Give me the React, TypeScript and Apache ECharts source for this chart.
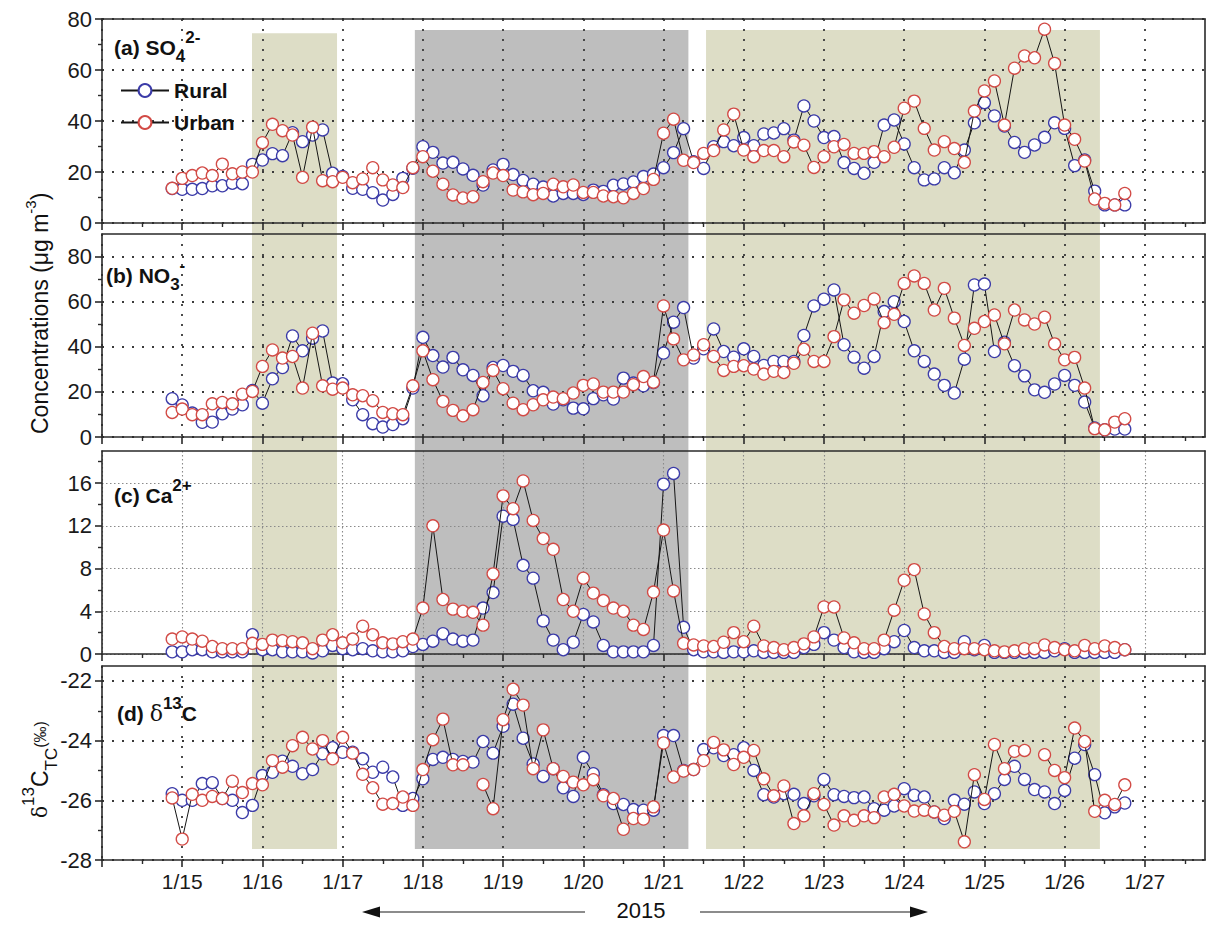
import React, { useEffect, useRef } from 'react';
import * as echarts from 'echarts';

// Sampling: every 3 h starting 1/14 21:00 (x axis = day of January 2015)
const START_DAY = 14.875;
const STEP_DAY = 0.125;

const so4Rural = [13.5, 13.2, 13.2, 13.5, 14.6, 14.6, 15.6, 15.4, 23, 24.7, 27.2, 26.4, 35.4, 31.9, 34.5, 36.5, 19.5, 18.2, 13.6, 13.2, 11.9, 9.0, 11.2, 17.5, 21.5, 29.9, 27.7, 23.5, 23.8, 21.2, 18.7, 14.9, 20.8, 23, 19, 16.7, 15.2, 14.1, 10.6, 11.6, 11.6, 11.2, 12.9, 12.4, 14.8, 15.3, 16.1, 18.2, 19.2, 21.7, 27.6, 37, 24, 21.4, 29.9, 31.9, 30.3, 33.5, 30.3, 34.9, 35.3, 37, 32.5, 45.9, 40, 33.5, 33.9, 23.7, 21.4, 19.5, 23.8, 38.4, 40.4, 31, 21.7, 16.9, 17.3, 21.7, 19.7, 28.6, 39.3, 47.2, 42, 38, 31.6, 27.7, 30.6, 33.6, 39.3, 37.1, 22.5, 24.7, 12.5, 7.1, 7.1, 7.1];
const so4Urban = [13.6, 17.5, 18.6, 19.6, 18.6, 23.1, 19.3, 20, 20, 31.5, 38.7, 36.2, 34.5, 17.9, 37.6, 16.6, 16.2, 17.9, 15.8, 17.3, 21.7, 16.9, 14.9, 13.9, 21.7, 26, 20.3, 15.2, 11, 9.8, 10.3, 16.2, 19.6, 18.6, 12.9, 12.2, 11.1, 11.6, 15.2, 14.2, 14.9, 12, 12, 10.6, 10.3, 9.9, 11.6, 13.5, 17.1, 35.2, 40.7, 24.6, 23.7, 27.3, 28.4, 36.5, 42.7, 28.6, 26, 28.4, 28.4, 26, 31.8, 30.5, 21.8, 26, 29.9, 30.8, 27.3, 27.3, 28, 26, 29.7, 45, 47.8, 37.1, 28.6, 31.9, 29.2, 23.8, 43.9, 51.8, 55.7, 38.4, 60.7, 65.5, 64.8, 76, 62.6, 38.4, 32.8, 24.3, 9.4, 7.7, 7.1, 11.6];

const no3Rural = [17, 14.2, 10.6, 6.5, 6.6, 10.3, 12.4, 14.3, 20.6, 15, 25.8, 30.8, 44.8, 38.2, 43.8, 47, 23.9, 23.6, 16.5, 9.9, 5.9, 4.4, 5.5, 8.1, 21.7, 44.2, 36.1, 31, 35.3, 29.8, 27.3, 18.3, 30.8, 31.7, 29.1, 27.3, 20.5, 19.8, 14.6, 16.5, 12.8, 12.5, 17, 18.7, 16.8, 26.1, 23.9, 22.7, 24.2, 37.2, 50.9, 57.4, 35, 39.1, 47.9, 37.9, 35.4, 39.1, 35.7, 31.7, 33.5, 33.5, 33.5, 45, 58.1, 61.1, 65.2, 40.9, 35.4, 30.5, 35.7, 55.6, 60, 51.2, 38.2, 33.5, 27.9, 22.9, 19.5, 34.5, 67.4, 67.8, 37.9, 42, 31.6, 27.1, 20.9, 19.8, 23.5, 27.3, 22.9, 15.5, 4, 3.2, 3.5, 3.5];
const no3Urban = [10.9, 12.4, 9.9, 9.9, 14.7, 15.3, 14.7, 19, 20.2, 31.3, 38.6, 35, 35.7, 21.7, 46, 22.7, 21.2, 21.7, 18.7, 18.3, 16.1, 10.9, 10.3, 9.9, 22.7, 38.2, 25.4, 15.8, 11.8, 9.4, 12.1, 24.2, 29.5, 21.4, 15, 12.1, 14.3, 16.5, 17.7, 17, 19.5, 22.9, 23.5, 19.9, 19.9, 19.9, 23.2, 26.8, 24.3, 58.1, 43.5, 34.2, 36.4, 40.9, 35.7, 29.5, 31.3, 31.6, 30.1, 27.9, 29.1, 28.6, 32.7, 38.9, 33.5, 33.5, 44.5, 60.8, 54.9, 58.3, 61.2, 50.7, 54.4, 68.1, 71.4, 68.1, 56.3, 65.9, 52.7, 40.6, 48.2, 51.2, 54.1, 41.3, 56.3, 51.9, 50.1, 53.1, 41.3, 34.2, 35.3, 21.7, 3.7, 3.2, 6.6, 8.1];

const caRural = [0.2, 0.2, 0.4, 0.4, 0.2, 0.2, 0.2, 0.2, 1.8, 0.4, 0.4, 0.2, 0.2, 0.2, 0.1, 0.3, 0.8, 0.5, 0.4, 0.5, 0.3, 0.2, 0.2, 0.3, 0.7, 0.9, 1.2, 1.9, 1.4, 1.2, 1.3, 4.3, 5.75, 12.9, 12.6, 8.3, 7.1, 3.1, 1.3, 0.4, 1.1, 3.7, 3.0, 0.8, 0.2, 0.2, 0.2, 0.2, 0.8, 15.9, 16.9, 2.5, 0.4, 0.2, 0.2, 0.15, 0.2, 0.2, 0.3, 0.15, 0.15, 0.15, 0.15, 0.6, 0.9, 2.0, 1.3, 0.6, 0.2, 0.15, 0.15, 0.5, 1.15, 2.2, 0.6, 0.3, 0.3, 0.15, 0.15, 1.15, 0.4, 0.8, 0.15, 0.15, 0.15, 0.15, 0.15, 0.15, 0.3, 0.5, 0.15, 0.15, 0.15, 0.15, 0.15, 0.4];
const caUrban = [1.4, 1.6, 1.4, 1.2, 0.7, 0.5, 0.5, 0.5, 1.0, 0.9, 1.3, 1.25, 1.15, 1.05, 0.5, 1.3, 1.8, 1.05, 1.4, 2.6, 1.8, 1.05, 0.95, 1.15, 1.4, 4.3, 12, 5.1, 4.2, 4.0, 3.9, 2.7, 7.5, 14.8, 13.6, 16.2, 12.5, 10.8, 9.8, 5.1, 4.0, 7.1, 5.7, 5.0, 4.3, 4.0, 2.7, 2.3, 5.8, 11.6, 5.9, 1.0, 0.85, 0.75, 0.7, 1.1, 2.0, 1.15, 2.6, 0.75, 0.6, 0.4, 0.6, 0.95, 1.6, 4.4, 4.4, 1.5, 1.05, 0.5, 0.5, 1.3, 4.1, 6.9, 7.9, 3.75, 2.0, 0.7, 0.5, 0.5, 0.5, 0.4, 0.3, 0.2, 0.3, 0.5, 0.5, 0.85, 0.6, 0.4, 0.3, 0.8, 0.5, 0.75, 0.6, 0.4];

const d13cRural = [-25.78, -26.0, -26.0, -25.44, -25.41, -25.94, -26.0, -26.41, -26.17, -25.17, -25.06, -24.69, -24.86, -25.11, -24.97, -24.44, -24.24, -24.39, -24.39, -24.61, -25.06, -24.89, -25.22, -26.17, -25.94, -25.28, -24.63, -24.56, -24.63, -24.7, -24.72, -24.03, -24.42, -23.52, -22.78, -23.92, -24.78, -25.2, -24.94, -25.58, -25.87, -24.56, -25.11, -25.81, -26.11, -26.14, -26.31, -26.33, -26.33, -23.83, -23.83, -25.0, -24.97, -24.3, -24.24, -24.5, -24.47, -24.24, -25.0, -25.81, -25.89, -25.78, -25.8, -26.11, -25.85, -25.3, -25.81, -25.87, -25.91, -25.89, -26.28, -26.33, -26.19, -25.61, -25.83, -25.89, -26.39, -26.61, -26.0, -26.13, -25.72, -26.11, -25.78, -25.3, -24.86, -25.3, -25.64, -25.72, -26.11, -25.67, -24.59, -24.13, -25.14, -26.42, -26.22, -26.09];
const d13cUrban = [-25.92, -27.3, -25.8, -26.0, -25.87, -25.94, -25.36, -25.74, -25.44, -25.48, -24.67, -24.89, -24.17, -23.89, -24.28, -24.0, -24.61, -23.89, -24.42, -25.13, -25.58, -26.13, -26.11, -25.89, -26.17, -24.97, -23.97, -23.28, -24.81, -24.81, null, -25.47, -26.28, -23.3, -22.28, -22.81, -24.94, -23.64, -24.94, -25.2, -25.39, -25.48, -25.31, -25.85, -25.94, -26.97, -26.61, -26.63, -26.22, -24.08, -25.22, -25.02, -24.97, -24.67, -24.06, -24.31, -24.8, -24.56, -24.33, -25.28, -25.85, -25.52, -26.78, -26.52, -25.78, -26.14, -26.83, -26.52, -26.67, -26.52, -26.58, -25.89, -25.8, -26.19, -26.36, -26.33, -26.39, -26.5, -26.37, -27.39, -25.14, -25.97, -24.13, -24.94, -24.36, -24.33, null, -24.47, -25.0, -25.24, -23.58, -24.03, -26.37, -26.0, -26.14, -25.48];

// Day-of-January tick labels
const dayTicks = [15, 16, 17, 18, 19, 20, 21, 22, 23, 24, 25, 26, 27];
const dayMinorTicks = [14.5, 15.5, 16.5, 17.5, 18.5, 19.5, 20.5, 21.5, 22.5, 23.5, 24.5, 25.5, 26.5, 27.5];

// Shaded episodes: [start day, end day, top (0..1 of band), colour index]
const episodes = [
  [15.87, 16.93, 0.996, 0],
  [17.9, 21.31, 1, 1],
  [21.53, 26.44, 1, 0],
];
const episodeColors = ['#ddddc6', '#bebebe'];

const FF = 'Arial, "Liberation Sans", Helvetica, sans-serif';
const RURAL_COLOR = '#3b3ba8';
const URBAN_COLOR = '#d24a45';
const AXIS_COLOR = '#2a2a2a';

const panels = [
  { rural: so4Rural, urban: so4Urban, min: 0, max: 80, interval: 20, major: [0, 20, 40, 60, 80], minor: [10, 30, 50, 70], top: 19, height: 204, grid: '#3a3a3a', dash: [2, 8], gw: 1.8 },
  { rural: no3Rural, urban: no3Urban, min: 0, max: 90, interval: 20, major: [0, 20, 40, 60, 80], minor: [10, 30, 50, 70], top: 234, height: 203, grid: '#3a3a3a', dash: [2, 8], gw: 1.8 },
  { rural: caRural, urban: caUrban, min: 0, max: 19, interval: 4, major: [0, 4, 8, 12, 16], minor: [2, 6, 10, 14, 18], top: 451, height: 203, grid: '#8a8a8a', dash: [1.5, 2.5], gw: 1.1 },
  { rural: d13cRural, urban: d13cUrban, min: -28, max: -21.5, interval: 2, major: [-28, -26, -24, -22], minor: [-27, -25, -23], top: 666, height: 194, grid: '#3a3a3a', dash: [2, 8], gw: 1.8 },
];

const GRID_LEFT = 102;
const GRID_WIDTH = 1103;

function buildOption() {
  const days = so4Rural.map((_, i) => START_DAY + i * STEP_DAY);
  const grids: any[] = [];
  const xAxes: any[] = [];
  const yAxes: any[] = [];
  const series: any[] = [];
  const n = panels.length;

  panels.forEach((p) => {
    grids.push({ left: GRID_LEFT, width: GRID_WIDTH, top: p.top, height: p.height, containLabel: false });
  });
  // shading grid
  grids.push({ left: GRID_LEFT, width: GRID_WIDTH, top: 30, height: 819 });

  // main x axes
  panels.forEach((p, k) => {
    xAxes.push({
      gridIndex: k, type: 'value', min: 14, max: 27.75, interval: 1, position: 'bottom', z: 1,
      axisLine: { show: true, onZero: false, lineStyle: { color: AXIS_COLOR, width: 1.6 } },
      axisTick: { show: true, inside: false, length: 7, customValues: [14, ...dayTicks], lineStyle: { color: AXIS_COLOR, width: 1.6 } },
      axisLabel: {
        show: k === n - 1, customValues: dayTicks, margin: 11, fontSize: 21, color: '#1a1a1a', fontFamily: FF,
        formatter: (v: number) => `1/${Math.round(v)}`,
      },
      splitLine: { show: true, lineStyle: { type: p.dash, color: p.grid, width: p.gw } },
    });
  });
  // top border x axes
  panels.forEach((p, k) => {
    xAxes.push({
      gridIndex: k, type: 'value', min: 14, max: 27.75, position: 'top', z: 1,
      axisLine: { show: true, onZero: false, lineStyle: { color: AXIS_COLOR, width: 1.6 } },
      axisTick: { show: false }, axisLabel: { show: false }, splitLine: { show: false },
    });
  });
  // minor tick x axes
  panels.forEach((p, k) => {
    xAxes.push({
      gridIndex: k, type: 'value', min: 14, max: 27.75, position: 'bottom', z: 1,
      axisLine: { show: false, onZero: false },
      axisTick: { show: true, inside: false, length: 4, customValues: dayMinorTicks, lineStyle: { color: AXIS_COLOR, width: 1.4 } },
      axisLabel: { show: false }, splitLine: { show: false },
    });
  });
  xAxes.push({ gridIndex: n, type: 'value', min: 14, max: 27.75, show: false });

  // main y axes
  panels.forEach((p, k) => {
    yAxes.push({
      gridIndex: k, type: 'value', min: p.min, max: p.max, interval: p.interval, position: 'left', z: 1,
      axisLine: { show: true, onZero: false, lineStyle: { color: AXIS_COLOR, width: 1.6 } },
      axisTick: { show: true, inside: false, length: 7, customValues: p.major, lineStyle: { color: AXIS_COLOR, width: 1.6 } },
      axisLabel: { show: true, customValues: p.major, margin: 10, fontSize: 22, color: '#1a1a1a', fontFamily: FF },
      splitLine: { show: true, lineStyle: { type: p.dash, color: p.grid, width: p.gw } },
    });
  });
  // right border y axes
  panels.forEach((p, k) => {
    yAxes.push({
      gridIndex: k, type: 'value', min: p.min, max: p.max, position: 'right', z: 1,
      axisLine: { show: true, onZero: false, lineStyle: { color: AXIS_COLOR, width: 1.6 } },
      axisTick: { show: false }, axisLabel: { show: false }, splitLine: { show: false },
    });
  });
  // minor tick y axes
  panels.forEach((p, k) => {
    yAxes.push({
      gridIndex: k, type: 'value', min: p.min, max: p.max, position: 'left', z: 1,
      axisLine: { show: false, onZero: false },
      axisTick: { show: true, inside: false, length: 4, customValues: p.minor, lineStyle: { color: AXIS_COLOR, width: 1.4 } },
      axisLabel: { show: false }, splitLine: { show: false },
    });
  });
  yAxes.push({ gridIndex: n, type: 'value', min: 0, max: 1, show: false });

  // shading
  series.push({
    type: 'custom', xAxisIndex: 3 * n, yAxisIndex: 3 * n, z: 0, silent: true,
    data: episodes,
    renderItem: (params: any, api: any) => {
      const s = api.coord([api.value(0), api.value(2)]);
      const e = api.coord([api.value(1), 0]);
      return {
        type: 'rect',
        shape: { x: s[0], y: s[1], width: e[0] - s[0], height: e[1] - s[1] },
        style: { fill: episodeColors[api.value(3)] },
      };
    },
  });

  panels.forEach((p, k) => {
    const mk = (name: string, vals: (number | null)[], color: string, z: number) => ({
      name, type: 'line', xAxisIndex: k, yAxisIndex: k, z,
      data: vals.map((v, i) => [days[i], v]),
      connectNulls: false,
      symbol: 'circle', symbolSize: 12, showSymbol: true,
      itemStyle: { color: '#ffffff', borderColor: color, borderWidth: 1.3 },
      lineStyle: { color: '#151515', width: 1 },
      emphasis: { disabled: true },
    });
    series.push(mk('Rural', p.rural, RURAL_COLOR, 3));
    series.push(mk('Urban', p.urban, URBAN_COLOR, 4));
  });

  const titleRich = {
    m: { fontSize: 21, fontWeight: 'bold', fontFamily: FF, fill: '#111', color: '#111', lineHeight: 36, verticalAlign: 'middle' },
    sb: { fontSize: 17, fontWeight: 'bold', fontFamily: FF, fill: '#111', color: '#111', lineHeight: 17, verticalAlign: 'bottom' },
    sp: { fontSize: 17, fontWeight: 'bold', fontFamily: FF, fill: '#111', color: '#111', lineHeight: 17, verticalAlign: 'top' },
    g: { fontSize: 22, fontFamily: '"DejaVu Serif", "Liberation Serif", serif', fill: '#111', color: '#111', lineHeight: 36, verticalAlign: 'middle' },
  };
  const title = (x: number, y: number, text: string) => ({
    type: 'text', x, y, z: 10,
    style: { text, rich: titleRich, align: 'left', verticalAlign: 'middle' },
  });

  const graphic: any[] = [
    title(114, 47, '{m|(a) SO}{sb|4}{sp|2-}'),
    title(106, 275, '{m|(b) NO}{sb|3}{sp|-}'),
    title(114, 495, '{m|(c) Ca}{sp|2+}'),
    title(117, 713, '{m|(d) }{g|δ}{sp|13}{m|C}'),
    {
      type: 'text', x: 40, y: 434, rotation: Math.PI / 2, z: 10,
      style: {
        text: '{n|Concentrations (μg m}{sp|-3}{n|)}', align: 'left', verticalAlign: 'middle',
        rich: {
          n: { fontSize: 23, fontFamily: FF, fill: '#111', color: '#111', lineHeight: 34, verticalAlign: 'middle' },
          sp: { fontSize: 15, fontFamily: FF, fill: '#111', color: '#111', lineHeight: 15, verticalAlign: 'top' },
        },
      },
    },
    {
      type: 'text', x: 40, y: 818, rotation: Math.PI / 2, z: 10,
      style: {
        text: '{d|δ}{sp|13}{n|C}{sb|TC}{p|(‰)}', align: 'left', verticalAlign: 'middle',
        rich: {
          d: { fontSize: 20, fontFamily: '"DejaVu Serif", "Liberation Serif", serif', fill: '#111', color: '#111', lineHeight: 40, verticalAlign: 'middle' },
          n: { fontSize: 23, fontFamily: FF, fill: '#111', color: '#111', lineHeight: 40, verticalAlign: 'middle' },
          sp: { fontSize: 17, fontFamily: FF, fill: '#111', color: '#111', lineHeight: 17, verticalAlign: 'top' },
          sb: { fontSize: 17, fontFamily: FF, fill: '#111', color: '#111', lineHeight: 28, verticalAlign: 'bottom' },
          p: { fontSize: 16, fontFamily: FF, fill: '#111', color: '#111', lineHeight: 40, verticalAlign: 'middle' },
        },
      },
    },
    {
      type: 'text', x: 641, y: 910, z: 10,
      style: { text: '2015', fontSize: 22, fontFamily: FF, fill: '#111', align: 'center', verticalAlign: 'middle' },
    },
    { type: 'line', z: 10, shape: { x1: 585, y1: 912, x2: 372, y2: 912 }, style: { stroke: '#666', lineWidth: 1.3 } },
    { type: 'polygon', z: 10, shape: { points: [[362, 912], [380, 906.5], [380, 917.5]] }, style: { fill: '#111' } },
    { type: 'line', z: 10, shape: { x1: 700, y1: 912, x2: 918, y2: 912 }, style: { stroke: '#666', lineWidth: 1.3 } },
    { type: 'polygon', z: 10, shape: { points: [[928, 912], [910, 906.5], [910, 917.5]] }, style: { fill: '#111' } },
  ];

  return {
    animation: false,
    backgroundColor: '#ffffff',
    grid: grids,
    xAxis: xAxes,
    yAxis: yAxes,
    series,
    legend: {
      data: ['Rural', 'Urban'], orient: 'vertical', left: 115, top: 75, z: 10,
      itemWidth: 48, itemHeight: 16, itemGap: 11, selectedMode: false,
      textStyle: { fontSize: 21, fontWeight: 'bold', color: '#111', fontFamily: FF },
    },
    graphic,
  };
}

export default function App() {
  const ref = useRef<HTMLDivElement>(null);
  useEffect(() => {
    if (!ref.current) return;
    const chart = echarts.init(ref.current, null, { renderer: 'svg' });
    chart.setOption(buildOption() as any);
    return () => chart.dispose();
  }, []);
  return (
    <div
      ref={ref}
      style={{ position: 'absolute', left: 0, top: 0, width: 1208, height: 926, background: '#fff' }}
    />
  );
}
